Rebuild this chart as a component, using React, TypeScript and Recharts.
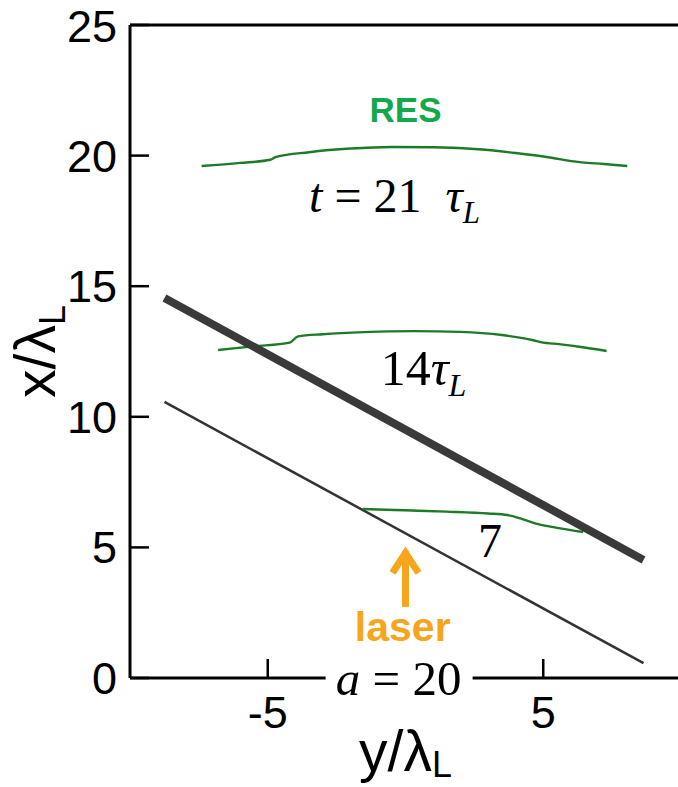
import { LineChart, Line, XAxis, YAxis, ReferenceDot } from 'recharts';

// thick / thin straight lines (y/λL, x/λL)
const thickX = [-8.75, 8.64];
const thickY = [14.55, 4.52];
const thinX = [-8.75, 8.64];
const thinY = [10.57, 0.57];

// RES front at t = 21, 14, 7
const res21X = [-7.4, -6, -4.9, -4.7, -3.5, -2, -0.5, 1, 2.5, 4, 5.3, 6.1, 6.4, 7.2, 8.05];
const res21Y = [19.6, 19.72, 19.84, 19.95, 20.13, 20.27, 20.33, 20.32, 20.25, 20.1, 19.92, 19.78, 19.74, 19.68, 19.6];
const res14X = [-6.8, -5.5, -4.2, -3.9, -3, -1.5, 0.3, 2, 3.5, 4.6, 5, 5.4, 6.3, 7.3];
const res14Y = [12.56, 12.7, 12.84, 13.08, 13.16, 13.24, 13.28, 13.25, 13.13, 12.94, 12.84, 12.8, 12.68, 12.52];
const res7X = [-1.55, 0, 1.5, 3, 3.7, 4.2, 4.7, 5.5, 6.45];
const res7Y = [6.47, 6.42, 6.37, 6.3, 6.24, 6.1, 5.92, 5.75, 5.59];

const xTicks = [-5, 5];
const xTopTicks = [-5, 0, 5];
const yTicks = [0, 5, 10, 15, 20, 25];
const yRightTicks = [5, 10, 15, 20];

const toPoints = (xs: number[], ys: number[]) => xs.map((x, i) => ({ x, y: ys[i] }));

const serif = '"Liberation Serif", "Times New Roman", serif';
const sans = '"Liberation Sans", Arial, sans-serif';
const GREEN = '#1d7a26';
const ORANGE = '#f7a51d';
const tickStyle = { fontFamily: sans, fontSize: 45, fill: '#000' };

const noteRes = ({ viewBox }: any) => (
  <text x={viewBox.x} y={viewBox.y} textAnchor="middle" fontFamily={sans} fontWeight="bold" fontSize={35} fill="#14a84b">
    RES
  </text>
);

const noteT21 = ({ viewBox }: any) => (
  <text x={viewBox.x} y={viewBox.y} fontFamily={serif} fontSize={48} fill="#000">
    <tspan fontStyle="italic">t</tspan>
    {' = 21\u00a0 '}
    <tspan fontStyle="italic">τ</tspan>
    <tspan fontStyle="italic" fontSize={31} dy={11}>L</tspan>
  </text>
);

const noteT14 = ({ viewBox }: any) => (
  <text x={viewBox.x} y={viewBox.y} fontFamily={serif} fontSize={50} fill="#000">
    14
    <tspan fontStyle="italic">τ</tspan>
    <tspan fontStyle="italic" fontSize={32} dy={11}>L</tspan>
  </text>
);

const noteT7 = ({ viewBox }: any) => (
  <text x={viewBox.x} y={viewBox.y} textAnchor="middle" fontFamily={serif} fontSize={48} fill="#000">
    7
  </text>
);

const noteArrow = ({ viewBox }: any) => {
  const { x, y } = viewBox;
  return (
    <g stroke={ORANGE} strokeWidth={7} fill="none">
      <path d={`M${x},${y + 3} L${x},${y + 59}`} />
      <path d={`M${x - 13},${y + 25} L${x},${y + 5} L${x + 13},${y + 25}`} />
    </g>
  );
};

const noteLaser = ({ viewBox }: any) => (
  <text x={viewBox.x} y={viewBox.y} textAnchor="middle" fontFamily={sans} fontWeight="bold" fontSize={41} fill={ORANGE}>
    laser
  </text>
);

const noteA = ({ viewBox }: any) => (
  <g>
    <rect x={viewBox.x - 73} y={viewBox.y - 40} width={147} height={50} fill="#fff" />
    <text x={viewBox.x} y={viewBox.y} textAnchor="middle" fontFamily={serif} fontSize={49} fill="#000">
      <tspan fontStyle="italic">a</tspan> = 20
    </text>
  </g>
);

const yLabel = ({ viewBox }: any) => {
  const cx = viewBox.x + 55;
  const cy = viewBox.y + viewBox.height / 2;
  return (
    <text x={cx} y={cy} transform={`rotate(-90, ${cx}, ${cy})`} textAnchor="middle" fontFamily={sans} fontSize={57} fill="#000">
      x/λ<tspan fontSize={36} dy={10}>L</tspan>
    </text>
  );
};

const xLabel = ({ viewBox }: any) => (
  <text x={viewBox.x + viewBox.width / 2} y={viewBox.y + 93} textAnchor="middle" fontFamily={sans} fontSize={57} fill="#000">
    y/λ<tspan fontSize={36} dy={6}>L</tspan>
  </text>
);

export default function App() {
  return (
    <div style={{ position: 'absolute', left: 0, top: 0, width: 678, height: 787, overflow: 'hidden', background: '#fff' }}>
      <LineChart width={701} height={787} margin={{ top: 0, right: 0, left: 0, bottom: 0 }}>
        <XAxis
          type="number"
          dataKey="x"
          domain={[-10, 10]}
          ticks={xTicks}
          height={109}
          tickSize={-19}
          tickMargin={37}
          tick={tickStyle}
          axisLine={{ stroke: '#000', strokeWidth: 3 }}
          tickLine={{ stroke: '#000', strokeWidth: 2.5 }}
          label={xLabel}
        />
        <XAxis
          xAxisId="top"
          orientation="top"
          type="number"
          dataKey="x"
          domain={[-10, 10]}
          ticks={xTopTicks}
          height={25}
          tickSize={-19}
          tick={false}
          axisLine={{ stroke: '#000', strokeWidth: 3 }}
          tickLine={{ stroke: '#000', strokeWidth: 2.5 }}
        />
        <YAxis
          type="number"
          domain={[0, 25]}
          ticks={yTicks}
          width={130}
          tickSize={-19}
          tickMargin={32}
          tick={tickStyle}
          axisLine={{ stroke: '#000', strokeWidth: 3 }}
          tickLine={{ stroke: '#000', strokeWidth: 2.5 }}
          label={yLabel}
        />
        <YAxis
          yAxisId="right"
          orientation="right"
          type="number"
          domain={[0, 25]}
          ticks={yRightTicks}
          width={20}
          tickSize={-19}
          tick={false}
          axisLine={{ stroke: '#000', strokeWidth: 3 }}
          tickLine={{ stroke: '#000', strokeWidth: 2.5 }}
        />

        <Line data={toPoints(thinX, thinY)} dataKey="y" type="linear" stroke="#333" strokeWidth={2.5} dot={false} isAnimationActive={false} />
        <Line data={toPoints(res7X, res7Y)} dataKey="y" type="monotone" stroke={GREEN} strokeWidth={2.4} dot={false} isAnimationActive={false} />
        <Line data={toPoints(res14X, res14Y)} dataKey="y" type="monotone" stroke={GREEN} strokeWidth={2.4} dot={false} isAnimationActive={false} />
        <Line data={toPoints(res21X, res21Y)} dataKey="y" type="monotone" stroke={GREEN} strokeWidth={2.4} dot={false} isAnimationActive={false} />
        <Line data={toPoints(thickX, thickY)} dataKey="y" type="linear" stroke="#3a3a3a" strokeWidth={8} dot={false} isAnimationActive={false} />

        <ReferenceDot x={0} y={21.29} r={0} fill="none" stroke="none" ifOverflow="visible" label={noteRes} />
        <ReferenceDot x={-3.5} y={17.84} r={0} fill="none" stroke="none" ifOverflow="visible" label={noteT21} />
        <ReferenceDot x={-0.9} y={11.22} r={0} fill="none" stroke="none" ifOverflow="visible" label={noteT14} />
        <ReferenceDot x={3.07} y={4.63} r={0} fill="none" stroke="none" ifOverflow="visible" label={noteT7} />
        <ReferenceDot x={0} y={4.98} r={0} fill="none" stroke="none" ifOverflow="visible" label={noteArrow} />
        <ReferenceDot x={-0.1} y={1.42} r={0} fill="none" stroke="none" ifOverflow="visible" label={noteLaser} />
        <ReferenceDot x={-0.25} y={-0.65} r={0} fill="none" stroke="none" ifOverflow="visible" label={noteA} />
      </LineChart>
    </div>
  );
}
